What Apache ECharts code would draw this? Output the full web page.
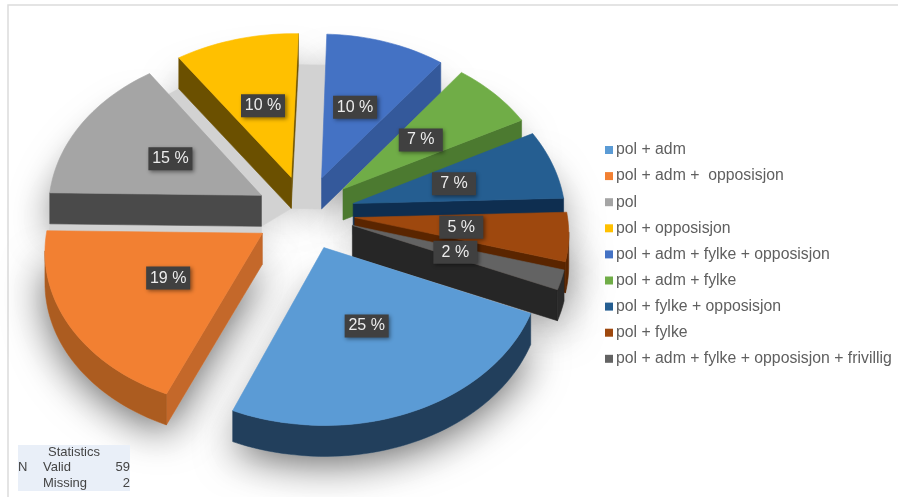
<!DOCTYPE html>
<html><head><meta charset="utf-8">
<style>html,body{margin:0;padding:0;background:#fff}#c{width:898px;height:497px}</style>
<script src="https://cdn.jsdelivr.net/npm/echarts@6/dist/echarts.min.js"></script>
</head><body><div id="c"></div>
<script>
const categories = ['pol + adm','pol + adm +  opposisjon','pol','pol + opposisjon','pol + adm + fylke + opposisjon','pol + adm + fylke','pol + fylke + opposisjon','pol + fylke','pol + adm + fylke + opposisjon + frivillig'];
const percents = [25,19,15,10,10,7,7,5,2];
const topColors = ['#5B9BD5','#F28032','#A5A5A5','#FFC000','#4472C4','#70AD47','#255E91','#9E480E','#636363'];
const edgeColors = ['#1F3F5F','#C4682A','#4A4A4A','#6B5000','#34599B','#4C7A30','#0E2E50','#5A2500','#262626'];
const rimColors = ['#223F5C','#AC5C20','#4A4A4A','#6B5000','#34599B','#4C7A30','#0E2E50','#5A2500','#2A2A2A'];
const tableTitle = 'Statistics';
const tableRows = [['N','Valid','59'],['','Missing','2']];

const FIRST = 111.6, TOTAL = 100;
const CX = 305, CY = 213, R = 213, EXPLODE = 50, TILT = 0.76, PERSP = 0.086, SHEAR = 0.03, DEPTH = 31;
const rad = d => d * Math.PI / 180;

function project(X, Y, Z) {
  const w = 1 + Y * PERSP / R;
  const warpX = (X < 0 && Y > 0) ? X * Y / R * 0.025 : 0;
  const warpY = X * (X > 0 ? 0.022 : 0.012) + (Y < 0 ? Y * 0.03 : 0);
  return [CX + X / w + Y * SHEAR + warpX, CY - TILT * Y / w + Z + warpY];
}
const spans = [];
(function () {
  let a = FIRST;
  percents.forEach(p => { const b = a + p / TOTAL * 360; spans.push([a, b]); a = b; });
})();
function offsetOf(i) {
  const m = rad((spans[i][0] + spans[i][1]) / 2);
  return [EXPLODE * Math.sin(m), EXPLODE * Math.cos(m)];
}
function planePoint(i, frac, deg) {
  const o = offsetOf(i);
  return [o[0] + frac * R * Math.sin(rad(deg)), o[1] + frac * R * Math.cos(rad(deg))];
}
function outline(i, z) {
  const pts = [project(...planePoint(i, 0, 0), z)];
  const n = Math.max(4, Math.round(percents[i] * 2));
  for (let k = 0; k <= n; k++) {
    const d = spans[i][0] + (spans[i][1] - spans[i][0]) * k / n;
    pts.push(project(...planePoint(i, 1, d), z));
  }
  return pts;
}
function area(p) {
  let s = 0;
  for (let k = 0; k < p.length; k++) {
    const q = p[(k + 1) % p.length];
    s += p[k][0] * q[1] - q[0] * p[k][1];
  }
  return s / 2;
}
function poly(points, fill, z2, extra) {
  return { type: 'polygon', shape: { points }, z2, silent: true,
    style: Object.assign({ fill, stroke: fill, lineWidth: 0.6 }, extra || {}) };
}
function renderSlice(i) {
  const base = 100 - offsetOf(i)[1];
  const top = outline(i, 0), bot = outline(i, DEPTH);
  const kids = [];
  kids.push(poly(bot, '#d2d2d2', 1, { shadowBlur: 40, shadowColor: 'rgba(0,0,0,0.6)', shadowOffsetX: 0, shadowOffsetY: 7 }));
  const faces = [
    [top[0], top[1], bot[1], bot[0]],
    [top[top.length - 1], top[0], bot[0], bot[bot.length - 1]]
  ];
  faces.forEach(f => { if (area(f) < 0) kids.push(poly(f, edgeColors[i], base)); });
  let runTop = [], runBot = [];
  const flush = () => {
    if (runTop.length > 1) kids.push(poly(runTop.concat(runBot.slice().reverse()), rimColors[i], base));
    runTop = []; runBot = [];
  };
  for (let k = 1; k < top.length - 1; k++) {
    const f = [top[k], top[k + 1], bot[k + 1], bot[k]];
    if (area(f) < 0) {
      if (!runTop.length) { runTop.push(top[k]); runBot.push(bot[k]); }
      runTop.push(top[k + 1]); runBot.push(bot[k + 1]);
    } else flush();
  }
  flush();
  kids.push(poly(top, topColors[i], base + 0.5));
  const mid = (spans[i][0] + spans[i][1]) / 2;
  const lp = project(...planePoint(i, 0.5, mid), 0);
  kids.push({ type: 'rect', shape: { x: lp[0] - 22, y: lp[1] - 11.5, width: 44, height: 23 }, z2: 400, silent: true,
    style: { fill: '#404040', shadowBlur: 4, shadowColor: 'rgba(0,0,0,0.45)', shadowOffsetX: 1.5, shadowOffsetY: 1.5 } });
  kids.push({ type: 'text', z2: 401, silent: true, x: lp[0], y: lp[1],
    style: { text: percents[i] + ' %', fill: '#ececec', font: '16px "Liberation Sans", Arial, sans-serif', align: 'center', verticalAlign: 'middle' } });
  if (i >= 1 && i <= 3) {
    const a = outline(i, DEPTH);
    const next = outline(i + 1, DEPTH);
    kids.push(poly([a[0], a[a.length - 1], next[1], next[0]], '#d2d2d2', 2));
  }
  return { type: 'group', children: kids };
}

const tableFont = '13px "Liberation Sans", Arial';
const option = {
  animation: false,
  backgroundColor: '#ffffff',
  legend: {
    orient: 'vertical', left: 605, top: 142, padding: 0, itemWidth: 8, itemHeight: 8, itemGap: 10.1, selectedMode: false,
    icon: 'rect',
    textStyle: { color: '#5f5f5f', fontSize: 15.8, lineHeight: 16, fontFamily: '"Liberation Sans", Arial, sans-serif', padding: [0, 0, 0, -2] },
    data: categories
  },
  graphic: { elements: [
    { type: 'rect', shape: { x: 8, y: 5, width: 900, height: 500 }, style: { fill: 'none', stroke: '#dcdcdc', lineWidth: 1.5 }, silent: true, z: 0 },
    { type: 'rect', shape: { x: 18, y: 445, width: 112, height: 46 }, style: { fill: '#e9eff8' }, silent: true, z: 5 },
    { type: 'text', x: 74, y: 452, style: { text: tableTitle, fill: '#444', font: tableFont, align: 'center', verticalAlign: 'middle' }, z: 6 },
    ...tableRows.flatMap((r, k) => [
      { type: 'text', x: 18, y: 467 + k * 16, style: { text: r[0], fill: '#444', font: tableFont, align: 'left', verticalAlign: 'middle' }, z: 6 },
      { type: 'text', x: 43, y: 467 + k * 16, style: { text: r[1], fill: '#444', font: tableFont, align: 'left', verticalAlign: 'middle' }, z: 6 },
      { type: 'text', x: 130, y: 467 + k * 16, style: { text: r[2], fill: '#444', font: tableFont, align: 'right', verticalAlign: 'middle' }, z: 6 }
    ])
  ] },
  series: categories.map((name, i) => ({
    type: 'custom', name, coordinateSystem: 'none', silent: true,
    itemStyle: { color: topColors[i] },
    data: [percents[i]],
    renderItem: () => renderSlice(i)
  }))
};
echarts.init(document.getElementById('c'), null, { renderer: 'canvas' }).setOption(option);
</script></body></html>
